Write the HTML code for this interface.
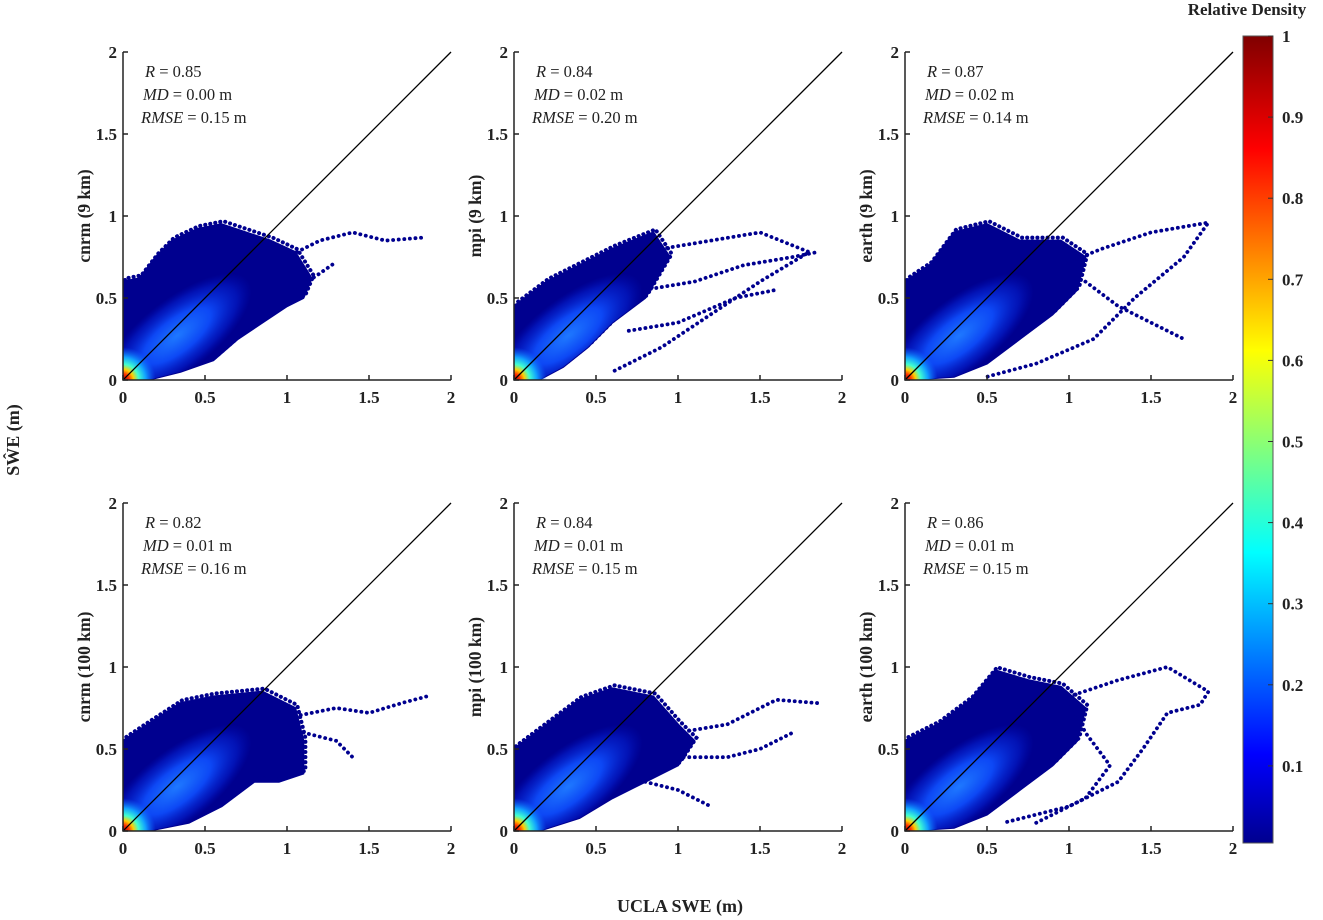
<!DOCTYPE html>
<html><head><meta charset="utf-8">
<style>
html,body{margin:0;padding:0;background:#fff;}
svg{display:block;font-family:"Liberation Serif",serif;}
.tk{font-weight:bold;font-size:17px;fill:#222;}
.st{font-size:16.5px;fill:#222;}
.yl{font-weight:bold;font-size:17.5px;fill:#222;}
</style></head>
<body>
<svg id="chart" width="1323" height="920" viewBox="0 0 1323 920">
<defs>
<linearGradient id="jet" x1="0" y1="1" x2="0" y2="0">
<stop offset="0" stop-color="#00008f"/><stop offset="0.11" stop-color="#0000ff"/>
<stop offset="0.36" stop-color="#00ffff"/><stop offset="0.61" stop-color="#ffff00"/>
<stop offset="0.86" stop-color="#ff0000"/><stop offset="1" stop-color="#800000"/>
</linearGradient>
<radialGradient id="hot" cx="0.5" cy="0.5" r="0.5">
<stop offset="0" stop-color="#b00000"/><stop offset="0.18" stop-color="#ff3000"/>
<stop offset="0.32" stop-color="#ffd000"/><stop offset="0.48" stop-color="#40ffd0"/>
<stop offset="0.7" stop-color="#10a0ff"/><stop offset="1" stop-color="#1060ff" stop-opacity="0"/>
</radialGradient>
<radialGradient id="core" cx="0.5" cy="0.5" r="0.5">
<stop offset="0" stop-color="#1e78ff"/><stop offset="0.45" stop-color="#0d48f5"/>
<stop offset="0.8" stop-color="#0420d0" stop-opacity="0.6"/>
<stop offset="1" stop-color="#0010c0" stop-opacity="0"/>
</radialGradient>
</defs>
</svg>
<script>
const xTicks=[0,0.5,1,1.5,2];
const yTicks=[0,0.5,1,1.5,2];
const tickLabels=["0","0.5","1","1.5","2"];
const panelNames=["cnrm (9 km)","mpi (9 km)","earth (9 km)","cnrm (100 km)","mpi (100 km)","earth (100 km)"];
const rVals=["0.85","0.84","0.87","0.82","0.84","0.86"];
const mdVals=["0.00","0.02","0.02","0.01","0.01","0.01"];
const rmseVals=["0.15","0.20","0.14","0.16","0.15","0.15"];
const clouds=[
[[0,0],[0,0.6],[0.1,0.62],[0.2,0.75],[0.3,0.85],[0.45,0.92],[0.6,0.95],[0.75,0.9],[0.9,0.85],[1.05,0.78],[1.15,0.62],[1.1,0.5],[1.0,0.45],[0.85,0.35],[0.7,0.25],[0.55,0.12],[0.35,0.05],[0.15,0]],
[[0,0],[0,0.45],[0.2,0.6],[0.4,0.7],[0.6,0.8],[0.85,0.9],[0.95,0.75],[0.8,0.5],[0.6,0.35],[0.45,0.2],[0.3,0.08],[0.15,0]],
[[0,0],[0,0.6],[0.15,0.7],[0.3,0.9],[0.5,0.95],[0.7,0.85],[0.95,0.85],[1.1,0.75],[1.05,0.55],[0.9,0.4],[0.7,0.25],[0.5,0.1],[0.3,0.02]],
[[0,0],[0,0.55],[0.15,0.65],[0.35,0.78],[0.55,0.82],[0.85,0.85],[1.05,0.75],[1.1,0.55],[1.1,0.35],[0.95,0.3],[0.8,0.3],[0.6,0.15],[0.4,0.05],[0.15,0]],
[[0,0],[0,0.5],[0.2,0.65],[0.4,0.8],[0.6,0.87],[0.85,0.82],[1.0,0.65],[1.1,0.55],[1.0,0.4],[0.8,0.3],[0.6,0.2],[0.4,0.08],[0.15,0]],
[[0,0],[0,0.55],[0.2,0.65],[0.4,0.8],[0.55,0.98],[0.75,0.92],[0.95,0.88],[1.1,0.75],[1.05,0.55],[0.9,0.4],[0.7,0.25],[0.5,0.1],[0.3,0.02]]
];
const trails=[
[[[1.0,0.75],[1.2,0.85],[1.4,0.9],[1.6,0.85],[1.85,0.87]],[[1.05,0.55],[1.2,0.65],[1.3,0.72]]],
[[[0.9,0.8],[1.2,0.85],[1.5,0.9],[1.8,0.78],[1.5,0.6],[1.2,0.4],[0.9,0.2],[0.6,0.05]],[[0.8,0.55],[1.1,0.6],[1.4,0.7],[1.7,0.75],[1.85,0.78]],[[0.7,0.3],[1.0,0.35],[1.35,0.5],[1.6,0.55]]],
[[[0.95,0.7],[1.2,0.8],[1.5,0.9],[1.85,0.96],[1.7,0.75],[1.4,0.5],[1.15,0.25],[0.8,0.1],[0.5,0.02]],[[1.1,0.6],[1.3,0.45],[1.5,0.35],[1.7,0.25]]],
[[[1.05,0.7],[1.3,0.75],[1.5,0.72],[1.7,0.78],[1.85,0.82]],[[1.1,0.6],[1.3,0.55],[1.4,0.45]]],
[[[1.0,0.6],[1.3,0.65],[1.6,0.8],[1.85,0.78]],[[1.0,0.45],[1.3,0.45],[1.5,0.5],[1.7,0.6]],[[0.8,0.3],[1.0,0.25],[1.2,0.15]]],
[[[1.0,0.82],[1.3,0.92],[1.6,1.0],[1.85,0.85],[1.8,0.77],[1.6,0.72],[1.45,0.5],[1.3,0.3],[1.0,0.15],[0.6,0.05]],[[1.0,0.8],[1.1,0.6],[1.25,0.4],[1.1,0.2],[0.8,0.05]]]
];
const cbTicks=[0.1,0.2,0.3,0.4,0.5,0.6,0.7,0.8,0.9,1];
const cbLabels=["0.1","0.2","0.3","0.4","0.5","0.6","0.7","0.8","0.9","1"];

const NS="http://www.w3.org/2000/svg";
const svg=document.getElementById('chart');
function el(t,a,p){const e=document.createElementNS(NS,t);for(const k in a)e.setAttribute(k,a[k]);(p||svg).appendChild(e);return e;}
const originsX=[123,514,905], originsY=[380,831], S=164;
const navy="#00008f";
panelNames.forEach((nm,i)=>{
  const ox=originsX[i%3], oy=originsY[Math.floor(i/3)];
  const sx=v=>ox+v*S, sy=v=>oy-v*S;
  const g=el('g',{});
  
  
  const cp=el('clipPath',{id:'cp'+i},g);
  el('rect',{x:ox,y:sy(2),width:2*S,height:2*S},cp);
  const pg=el('g',{'clip-path':'url(#cp'+i+')'},g);
  const pts=clouds[i].map(p=>sx(p[0])+','+sy(p[1])).join(' ');
  const cc=el('clipPath',{id:'cc'+i},g);
  el('polygon',{points:pts},cc);
  const cloud=el('polygon',{points:pts,fill:navy,stroke:navy,'stroke-width':2,'stroke-linejoin':'round'},pg);
  
  
  const edge=el('polygon',{points:pts,fill:'none',stroke:navy,'stroke-width':4,'stroke-dasharray':'0.1 5','stroke-linecap':'round','transform':'translate(2 -3)'},pg);
  
  
  trails[i].forEach(tr=>{
    const t=el('polyline',{points:tr.map(p=>sx(p[0])+','+sy(p[1])).join(' '),fill:'none',stroke:navy,'stroke-width':3.8,'stroke-dasharray':'0.1 5.5','stroke-linecap':'round'},pg);
    
    
  });
  const cg=el('g',{'clip-path':'url(#cc'+i+')'},pg);
  const c=el('ellipse',{cx:sx(0.33),cy:sy(0.27),rx:0.55*S,ry:0.22*S,fill:'url(#core)',transform:'rotate(-38 '+sx(0.33)+' '+sy(0.27)+')'},cg);
  
  
  const h=el('ellipse',{cx:sx(0),cy:sy(0),rx:0.2*S,ry:0.2*S,fill:'url(#hot)'},pg);
  
  
  const d=el('line',{x1:sx(0),y1:sy(0),x2:sx(2),y2:sy(2),stroke:'#000','stroke-width':1.3},g);
  
  
  const ax=el('path',{d:'M'+ox+' '+sy(2)+' V'+oy+' H'+sx(2),fill:'none',stroke:'#222','stroke-width':1.5},g);
  
  
  xTicks.forEach((v,j)=>{
    el('line',{x1:sx(v),y1:oy,x2:sx(v),y2:oy-5,stroke:'#222','stroke-width':1.5},g);
    const t=el('text',{x:sx(v),y:oy+23,'text-anchor':'middle',class:'tk'},g);t.textContent=tickLabels[j];
    
    
  });
  yTicks.forEach((v,j)=>{
    el('line',{x1:ox,y1:sy(v),x2:ox+5,y2:sy(v),stroke:'#222','stroke-width':1.5},g);
    const t=el('text',{x:ox-6,y:sy(v)+6,'text-anchor':'end',class:'tk'},g);t.textContent=tickLabels[j];
    
    
  });
  const yl=el('text',{x:ox-33,y:sy(1),'text-anchor':'middle',class:'yl',transform:'rotate(-90 '+(ox-33)+' '+sy(1)+')'},g);
  yl.textContent=nm;
  
  
  const lines=[['R',' = '+rVals[i],22],['MD',' = '+mdVals[i]+' m',20],['RMSE',' = '+rmseVals[i]+' m',18]];
  lines.forEach((L,k)=>{
    const t=el('text',{x:ox+L[2],y:sy(2)+25+k*23,class:'st'},g);
    const a=el('tspan',{'font-style':'italic'},t);a.textContent=L[0];
    const b=el('tspan',{},t);b.textContent=L[1];
    
    
  });
});
// colorbar
const cbTop=36, cbBot=843, cbX=1243, cbW=30;
const cy=v=>847-v*811;
const cb=el('rect',{x:cbX,y:cbTop,width:cbW,height:cbBot-cbTop,fill:'url(#jet)',stroke:'#555','stroke-width':1});


cbTicks.forEach((v,j)=>{
  el('line',{x1:cbX+cbW-5,y1:cy(v),x2:cbX+cbW,y2:cy(v),stroke:'#333','stroke-width':1});
  const t=el('text',{x:1282,y:cy(v)+6,class:'tk'});t.textContent=cbLabels[j];
  
  
});
</script>
<svg style="position:absolute;left:0;top:0" width="1323" height="920">
<text x="1247" y="15" text-anchor="middle" font-family="Liberation Serif,serif" font-weight="bold" font-size="17" fill="#222">Relative Density</text>
<text x="680" y="912" text-anchor="middle" font-family="Liberation Serif,serif" font-weight="bold" font-size="18" fill="#222">UCLA SWE (m)</text>
<text x="0" y="0" transform="translate(19 440) rotate(-90)" text-anchor="middle" font-family="Liberation Serif,serif" font-weight="bold" font-size="18" fill="#222">SW&#770;E (m)</text>
</svg>
</body></html>
